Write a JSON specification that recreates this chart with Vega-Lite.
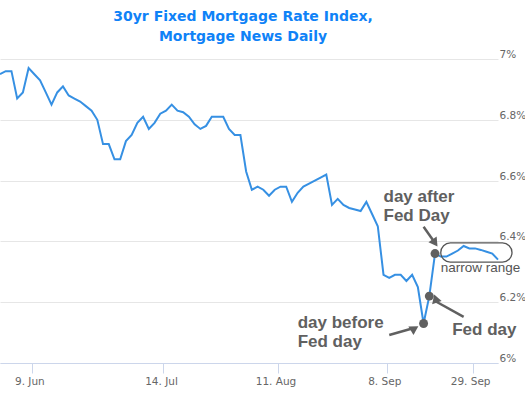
{
  "$schema": "https://vega.github.io/schema/vega-lite/v6.json",
  "width": 498,
  "height": 304,
  "autosize": "none",
  "padding": {"top": 59, "left": 0, "right": 27, "bottom": 34},
  "background": "white",
  "title": {
    "text": ["30yr Fixed Mortgage Rate Index,", "Mortgage News Daily"],
    "font": "DejaVu Sans",
    "fontSize": 14,
    "fontWeight": "bold",
    "color": "#0f82f7",
    "lineHeight": 19.5,
    "anchor": "middle",
    "dx": -6,
    "offset": 6
  },
  "config": {"view": {"stroke": null}},
  "datasets": {
    "rates": [
      {"date": "2024-05-31", "rate": 6.95},
      {"date": "2024-06-03", "rate": 6.96},
      {"date": "2024-06-04", "rate": 6.96},
      {"date": "2024-06-05", "rate": 6.87},
      {"date": "2024-06-06", "rate": 6.89},
      {"date": "2024-06-07", "rate": 6.97},
      {"date": "2024-06-10", "rate": 6.95},
      {"date": "2024-06-11", "rate": 6.93},
      {"date": "2024-06-12", "rate": 6.89},
      {"date": "2024-06-13", "rate": 6.85},
      {"date": "2024-06-14", "rate": 6.89},
      {"date": "2024-06-17", "rate": 6.91},
      {"date": "2024-06-18", "rate": 6.88},
      {"date": "2024-06-20", "rate": 6.87},
      {"date": "2024-06-21", "rate": 6.86},
      {"date": "2024-06-24", "rate": 6.845},
      {"date": "2024-06-25", "rate": 6.83},
      {"date": "2024-06-26", "rate": 6.8},
      {"date": "2024-06-27", "rate": 6.72},
      {"date": "2024-06-28", "rate": 6.72},
      {"date": "2024-07-01", "rate": 6.67},
      {"date": "2024-07-02", "rate": 6.67},
      {"date": "2024-07-03", "rate": 6.73},
      {"date": "2024-07-05", "rate": 6.75},
      {"date": "2024-07-08", "rate": 6.79},
      {"date": "2024-07-09", "rate": 6.81},
      {"date": "2024-07-10", "rate": 6.77},
      {"date": "2024-07-11", "rate": 6.79},
      {"date": "2024-07-12", "rate": 6.82},
      {"date": "2024-07-15", "rate": 6.83},
      {"date": "2024-07-16", "rate": 6.85},
      {"date": "2024-07-17", "rate": 6.83},
      {"date": "2024-07-18", "rate": 6.825},
      {"date": "2024-07-19", "rate": 6.81},
      {"date": "2024-07-22", "rate": 6.785},
      {"date": "2024-07-23", "rate": 6.77},
      {"date": "2024-07-24", "rate": 6.78},
      {"date": "2024-07-25", "rate": 6.81},
      {"date": "2024-07-26", "rate": 6.81},
      {"date": "2024-07-29", "rate": 6.81},
      {"date": "2024-07-30", "rate": 6.77},
      {"date": "2024-07-31", "rate": 6.75},
      {"date": "2024-08-01", "rate": 6.75},
      {"date": "2024-08-02", "rate": 6.63},
      {"date": "2024-08-05", "rate": 6.57},
      {"date": "2024-08-06", "rate": 6.58},
      {"date": "2024-08-07", "rate": 6.57},
      {"date": "2024-08-08", "rate": 6.55},
      {"date": "2024-08-09", "rate": 6.57},
      {"date": "2024-08-12", "rate": 6.58},
      {"date": "2024-08-13", "rate": 6.58},
      {"date": "2024-08-14", "rate": 6.53},
      {"date": "2024-08-15", "rate": 6.56},
      {"date": "2024-08-16", "rate": 6.58},
      {"date": "2024-08-19", "rate": 6.59},
      {"date": "2024-08-20", "rate": 6.6},
      {"date": "2024-08-21", "rate": 6.61},
      {"date": "2024-08-22", "rate": 6.62},
      {"date": "2024-08-23", "rate": 6.52},
      {"date": "2024-08-26", "rate": 6.54},
      {"date": "2024-08-27", "rate": 6.52},
      {"date": "2024-08-28", "rate": 6.51},
      {"date": "2024-08-29", "rate": 6.505},
      {"date": "2024-08-30", "rate": 6.5},
      {"date": "2024-09-03", "rate": 6.53},
      {"date": "2024-09-04", "rate": 6.49},
      {"date": "2024-09-05", "rate": 6.45},
      {"date": "2024-09-06", "rate": 6.29},
      {"date": "2024-09-09", "rate": 6.28},
      {"date": "2024-09-10", "rate": 6.29},
      {"date": "2024-09-11", "rate": 6.29},
      {"date": "2024-09-12", "rate": 6.27},
      {"date": "2024-09-13", "rate": 6.29},
      {"date": "2024-09-16", "rate": 6.25},
      {"date": "2024-09-17", "rate": 6.13},
      {"date": "2024-09-18", "rate": 6.22},
      {"date": "2024-09-19", "rate": 6.36},
      {"date": "2024-09-20", "rate": 6.35},
      {"date": "2024-09-23", "rate": 6.35},
      {"date": "2024-09-24", "rate": 6.36},
      {"date": "2024-09-25", "rate": 6.37},
      {"date": "2024-09-26", "rate": 6.385},
      {"date": "2024-09-27", "rate": 6.377},
      {"date": "2024-09-30", "rate": 6.377},
      {"date": "2024-10-01", "rate": 6.372},
      {"date": "2024-10-02", "rate": 6.366},
      {"date": "2024-10-03", "rate": 6.36},
      {"date": "2024-10-04", "rate": 6.34}
    ],
    "arrows": [
      {"arrow": "after", "date": "2024-09-17", "rate": 6.448, "date2": "2024-09-19", "rate2": 6.395},
      {"arrow": "fed", "date": "2024-09-26", "rate": 6.152, "date2": "2024-09-19", "rate2": 6.204},
      {"arrow": "before", "date": "2024-09-09", "rate": 6.092, "date2": "2024-09-13", "rate2": 6.1135}
    ],
    "boldnotes": [
      {"label": "day after\nFed Day", "date": "2024-09-06", "rate": 6.53},
      {"label": "day before\nFed day", "date": "2024-08-15", "rate": 6.115},
      {"label": "Fed day", "date": "2024-09-24", "rate": 6.092}
    ],
    "range": [
      {"label": "narrow range", "date": "2024-09-20", "date2": "2024-10-04", "rate": 6.395, "rate2": 6.332, "textrate": 6.30}
    ]
  },
  "layer": [
    {
      "data": {"name": "rates"},
      "mark": {"type": "line", "color": "#3690e3", "strokeWidth": 2},
      "encoding": {
        "x": {
          "field": "date",
          "type": "ordinal",
          "scale": {"type": "point", "padding": 0},
          "axis": {
            "values": ["2024-06-10", "2024-07-15", "2024-08-12", "2024-09-09", "2024-09-30"],
            "labelExpr": "datum.value == '2024-06-10' ? '9. Jun' : datum.value == '2024-07-15' ? '14. Jul' : datum.value == '2024-08-12' ? '11. Aug' : datum.value == '2024-09-09' ? '8. Sep' : '29. Sep'",
            "title": null,
            "grid": false,
            "domainColor": "#ccd6eb",
            "tickColor": "#ccd6eb",
            "tickSize": 10,
            "tickOffset": -2.5,
            "labelOffset": -2.5,
            "labelAngle": 0,
            "labelColor": "#666666",
            "labelFont": "DejaVu Sans",
            "labelFontSize": 10.5,
            "labelPadding": 3
          }
        },
        "y": {
          "field": "rate",
          "type": "quantitative",
          "scale": {"domain": [6, 7], "zero": false, "nice": false},
          "axis": {
            "orient": "right",
            "values": [6, 6.2, 6.4, 6.6, 6.8, 7],
            "labelExpr": "format(datum.value, '.1~f') + '%'",
            "title": null,
            "grid": true,
            "gridColor": "#e6e6e6",
            "domain": false,
            "ticks": false,
            "labelAlign": "left",
            "labelBaseline": "alphabetic",
            "labelPadding": 1,
            "labelOffset": -1.5,
            "labelColor": "#666666",
            "labelFont": "DejaVu Sans",
            "labelFontSize": 10.5
          }
        }
      }
    },
    {
      "data": {"name": "rates"},
      "transform": [{"filter": {"field": "date", "oneOf": ["2024-09-17", "2024-09-18", "2024-09-19"]}}],
      "mark": {"type": "point", "filled": true, "color": "#606060", "size": 80, "opacity": 1},
      "encoding": {
        "x": {"field": "date", "type": "ordinal"},
        "y": {"field": "rate", "type": "quantitative"}
      }
    },
    {
      "data": {"name": "range"},
      "mark": {"type": "rect", "fill": null, "fillOpacity": 0, "stroke": "#555555", "strokeWidth": 1.3, "cornerRadius": 10, "x2Offset": 14},
      "encoding": {
        "x": {"field": "date", "type": "ordinal"},
        "x2": {"field": "date2"},
        "y": {"field": "rate", "type": "quantitative"},
        "y2": {"field": "rate2"}
      }
    },
    {
      "data": {"name": "range"},
      "mark": {"type": "text", "align": "left", "baseline": "alphabetic", "font": "Liberation Sans", "fontSize": 13.5, "color": "#555555"},
      "encoding": {
        "x": {"field": "date", "type": "ordinal"},
        "y": {"field": "textrate", "type": "quantitative"},
        "text": {"field": "label"}
      }
    },
    {
      "data": {"name": "arrows"},
      "mark": {"type": "rule", "color": "#606060", "strokeWidth": 2.5},
      "encoding": {
        "x": {"field": "date", "type": "ordinal"},
        "x2": {"field": "date2"},
        "y": {"field": "rate", "type": "quantitative"},
        "y2": {"field": "rate2"}
      }
    },
    {
      "data": {"name": "arrows"},
      "mark": {"type": "point", "shape": "triangle-up", "filled": true, "color": "#606060", "size": 100, "opacity": 1},
      "encoding": {
        "x": {"field": "date2", "type": "ordinal"},
        "y": {"field": "rate2", "type": "quantitative"},
        "angle": {"field": "arrow", "type": "nominal", "scale": {"domain": ["after", "fed", "before"], "range": [145, 299, 74]}, "legend": null}
      }
    },
    {
      "data": {"name": "boldnotes"},
      "mark": {"type": "text", "align": "left", "baseline": "alphabetic", "font": "Liberation Sans", "fontWeight": "bold", "fontSize": 17, "lineHeight": 19, "lineBreak": "\n", "color": "#606060"},
      "encoding": {
        "x": {"field": "date", "type": "ordinal"},
        "y": {"field": "rate", "type": "quantitative"},
        "text": {"field": "label"}
      }
    }
  ]
}
